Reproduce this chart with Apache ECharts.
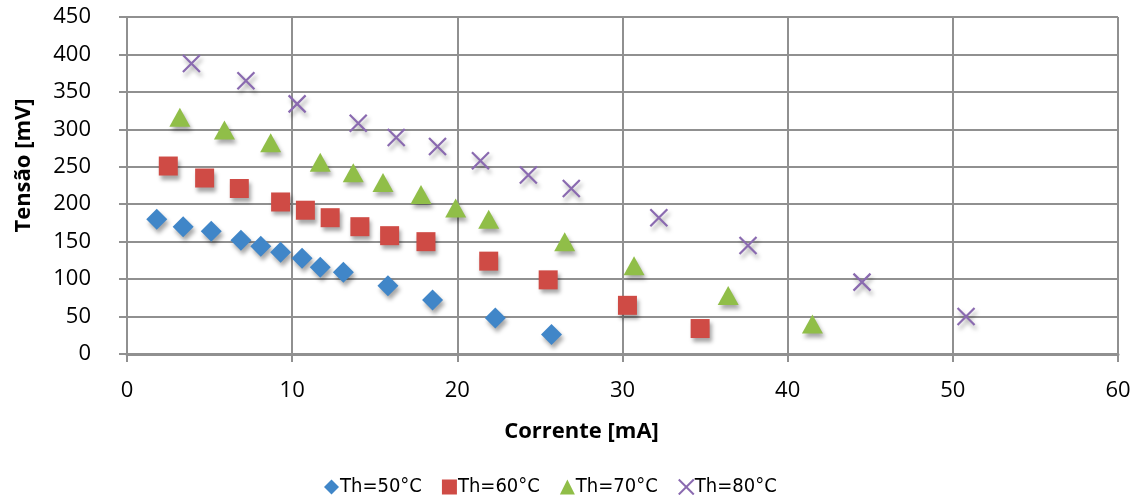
<!DOCTYPE html>
<html>
<head>
<meta charset="utf-8">
<script src="https://cdn.jsdelivr.net/npm/echarts@6/dist/echarts.min.js"></script>
<style>html,body{margin:0;padding:0;background:#fff}#c{width:1143px;height:495px}</style>
</head>
<body>
<div id="c"></div>
<script>
// Data: [Corrente mA, Tensão mV]
const seriesNames = ['Th=50°C', 'Th=60°C', 'Th=70°C', 'Th=80°C'];
const th50 = [[1.8,180],[3.4,170],[5.1,164],[6.9,152],[8.1,144],[9.3,136],[10.6,128],[11.7,116],[13.1,109],[15.8,91],[18.5,72],[22.3,48],[25.7,26]];
const th60 = [[2.5,251],[4.7,235],[6.8,221],[9.3,203],[10.8,192],[12.3,182],[14.1,170],[15.9,158],[18.1,150],[21.9,124],[25.5,99],[30.3,65],[34.7,34]];
const th70 = [[3.2,316],[5.9,299],[8.7,282],[11.7,256],[13.7,242],[15.5,229],[17.8,213],[19.9,195],[21.9,180],[26.5,150],[30.7,118],[36.4,78],[41.5,40]];
const th80 = [[3.9,388],[7.2,365],[10.3,334],[14.0,308],[16.3,289],[18.8,277],[21.4,258],[24.3,239],[26.9,221],[32.2,182],[37.6,145],[44.5,96],[50.8,50]];
const xTicks = {min:0, max:60, interval:10};
const yTicks = {min:0, max:450, interval:50};

const colors = ['#4086C8', '#CF4B45', '#90BE48', '#8A6AB0'];
const symbols = ['diamond', 'rect', 'triangle', 'path://M0,0 L10,10 M10,0 L0,10'];
const sizes = [[21,21],[19,19],[21,19],[17,17]];
const font = '"Open Sans", "Liberation Sans", sans-serif';
const gridColor = '#909090';

const chart = echarts.init(document.getElementById('c'), null, {renderer:'canvas'});
const datasets = [th50, th60, th70, th80];
const series = datasets.map((d, i) => {
  const isX = i === 3;
  return {
    name: seriesNames[i],
    type: 'scatter',
    data: d,
    symbol: symbols[i],
    symbolSize: sizes[i],
    itemStyle: isX ? {
      color: 'rgba(0,0,0,0)', borderColor: colors[i], borderWidth: 2.2, opacity: 1,
      shadowBlur: 4, shadowColor: 'rgba(0,0,0,0.35)', shadowOffsetX: 2, shadowOffsetY: 4
    } : {
      color: colors[i], opacity: 1,
      shadowBlur: 4, shadowColor: 'rgba(0,0,0,0.35)', shadowOffsetX: 2, shadowOffsetY: 4
    },
    emphasis: {disabled: true}
  };
});

chart.setOption({
  animation: false,
  backgroundColor: '#fff',
  grid: {left: 127, right: 25, top: 17, bottom: 141},
  xAxis: {
    type: 'value', min: xTicks.min, max: xTicks.max, interval: xTicks.interval,
    name: 'Corrente [mA]', nameLocation: 'middle', nameGap: 67,
    nameTextStyle: {fontFamily: font, fontSize: 22, fontWeight: 'bold', color: '#000', padding: [0, 82, 0, 0]},
    axisLine: {show: true, lineStyle: {color: gridColor, width: 3}},
    axisTick: {show: true, length: 8, lineStyle: {color: gridColor, width: 2}},
    axisLabel: {fontFamily: font, fontSize: 22, color: '#000', margin: 26},
    splitLine: {show: true, lineStyle: {color: gridColor, width: 2}}
  },
  yAxis: {
    type: 'value', min: yTicks.min, max: yTicks.max, interval: yTicks.interval,
    name: 'Tensão [mV]', nameLocation: 'middle', nameGap: 92, nameRotate: 90,
    nameTextStyle: {fontFamily: font, fontSize: 22, fontWeight: 'bold', color: '#000', padding: [0, 0, 0, 40]},
    axisLine: {show: true, lineStyle: {color: gridColor, width: 2}},
    axisTick: {show: true, length: 8, lineStyle: {color: gridColor, width: 2}},
    axisLabel: {fontFamily: font, fontSize: 22, color: '#000', margin: 36},
    splitLine: {show: true, lineStyle: {color: gridColor, width: 2}}
  },
  legend: {
    data: seriesNames.map((n, i) => ({name: n, icon: symbols[i]})),
    left: 319, top: 472,
    itemWidth: 15, itemHeight: 15, itemGap: 20,
    textStyle: {fontFamily: '"DejaVu Sans Condensed", "DejaVu Sans", sans-serif', fontSize: 20, color: '#000', padding: [0,0,0,-4]}
  },
  series: series
});
</script>
</body>
</html>
